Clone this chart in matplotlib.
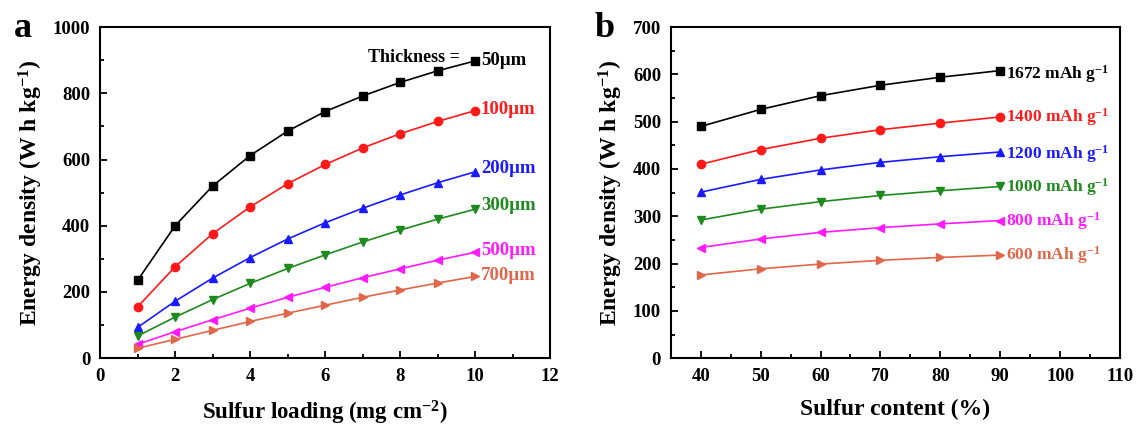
import numpy as np
import matplotlib.pyplot as plt
from matplotlib.ticker import MultipleLocator

plt.rcParams['font.family'] = ['Liberation Serif', 'DejaVu Serif']
plt.rcParams['font.weight'] = 'bold'
plt.rcParams['mathtext.fontset'] = 'custom'
plt.rcParams['mathtext.rm'] = 'Liberation Serif:bold'
plt.rcParams['mathtext.default'] = 'rm'

# panel a: energy density vs sulfur loading, for several thicknesses
loading = [1, 2, 3, 4, 5, 6, 7, 8, 9, 10]
thickness_labels = ['50µm', '100µm', '200µm', '300µm', '500µm', '700µm']
density_a = [
    [235, 400, 520, 612, 686, 745, 792, 833, 868, 898],
    [155, 276, 376, 457, 527, 585, 635, 678, 715, 748],
    [93, 172, 242, 304, 360, 409, 453, 493, 530, 563],
    [67, 124, 177, 226, 271, 312, 351, 387, 420, 450],
    [42, 80, 116, 151, 184, 214, 243, 270, 296, 320],
    [30, 57, 84, 111, 136, 160, 184, 206, 227, 247],
]

# panel b: energy density vs sulfur content, for several capacities
content = [40, 50, 60, 70, 80, 90]
capacity_labels = ['1672', '1400', '1200', '1000', '800', '600']
density_b = [
    [490, 526, 555, 577, 594, 608],
    [410, 441, 465, 483, 497, 510],
    [351, 378, 398, 414, 426, 436],
    [292, 315, 331, 344, 354, 363],
    [234, 252, 266, 276, 284, 291],
    [176, 189, 199, 207, 213, 218],
]

colors = ['black', '#ff1a1a', '#1a1aff', '#1e8a1e', '#ff1aff', '#e0674a']
markers = ['s', 'o', '^', 'v', '<', '>']

fig = plt.figure(figsize=(11.37, 4.30), dpi=100)
ax1 = fig.add_axes([0.088, 0.167, 0.396, 0.770])
ax2 = fig.add_axes([0.590, 0.167, 0.395, 0.770])

for i in range(6):
    ax1.plot(loading, density_a[i], color=colors[i], marker=markers[i],
             markersize=6, lw=1.2)
    ax2.plot(content, density_b[i], color=colors[i], marker=markers[i],
             markersize=6, lw=1.2)

# end-of-line labels
a_offsets = [0, 2, 10, 10, 5, 3]
for i in range(6):
    ax1.text(loading[-1] + 0.15, density_a[i][-1] + a_offsets[i], thickness_labels[i],
             color=colors[i], fontsize=13.5, fontweight='bold', va='center')
ax1.text(loading[-1] - 0.4, density_a[0][-1] + 10, 'Thickness =',
         color='black', fontsize=13, fontweight='bold', va='center', ha='right')

b_offsets = [-8, 0, -5, -2, -2, 0]
for i in range(6):
    ax2.text(content[-1] + 1.0, density_b[i][-1] + b_offsets[i],
             capacity_labels[i] + ' mAh g$^{-1}$',
             color=colors[i], fontsize=12.5, fontweight='bold', va='center')

ax1.set_xlim(0, 12)
ax1.set_ylim(0, 1000)
ax1.xaxis.set_major_locator(MultipleLocator(2))
ax1.xaxis.set_minor_locator(MultipleLocator(1))
ax1.yaxis.set_major_locator(MultipleLocator(200))
ax1.yaxis.set_minor_locator(MultipleLocator(100))
ax1.set_xlabel('Sulfur loading (mg cm$^{-2}$)', fontsize=16.5, fontweight='bold', labelpad=10)
ax1.set_ylabel('Energy density (W h kg$^{-1}$)', fontsize=17, fontweight='bold', labelpad=6)

ax2.set_xlim(35, 110)
ax2.set_ylim(0, 700)
ax2.set_xticks([40, 50, 60, 70, 80, 90, 100, 110])
ax2.xaxis.set_minor_locator(MultipleLocator(5))
ax2.yaxis.set_major_locator(MultipleLocator(100))
ax2.yaxis.set_minor_locator(MultipleLocator(50))
ax2.set_xlabel('Sulfur content (%)', fontsize=17, fontweight='bold', labelpad=10)
ax2.set_ylabel('Energy density (W h kg$^{-1}$)', fontsize=17, fontweight='bold', labelpad=6)

for ax in (ax1, ax2):
    for s in ax.spines.values():
        s.set_linewidth(1.5)
    ax.tick_params(which='both', direction='in', width=1.3, labelsize=13.5, pad=7)
    ax.tick_params(which='major', length=5)
    ax.tick_params(which='minor', length=3)
    for lab in ax.get_xticklabels() + ax.get_yticklabels():
        lab.set_fontweight('bold')

fig.text(0.012, 0.915, 'a', fontsize=26, fontweight='bold')
fig.text(0.523, 0.915, 'b', fontsize=26, fontweight='bold')

fig.savefig('out.png', dpi=100)
